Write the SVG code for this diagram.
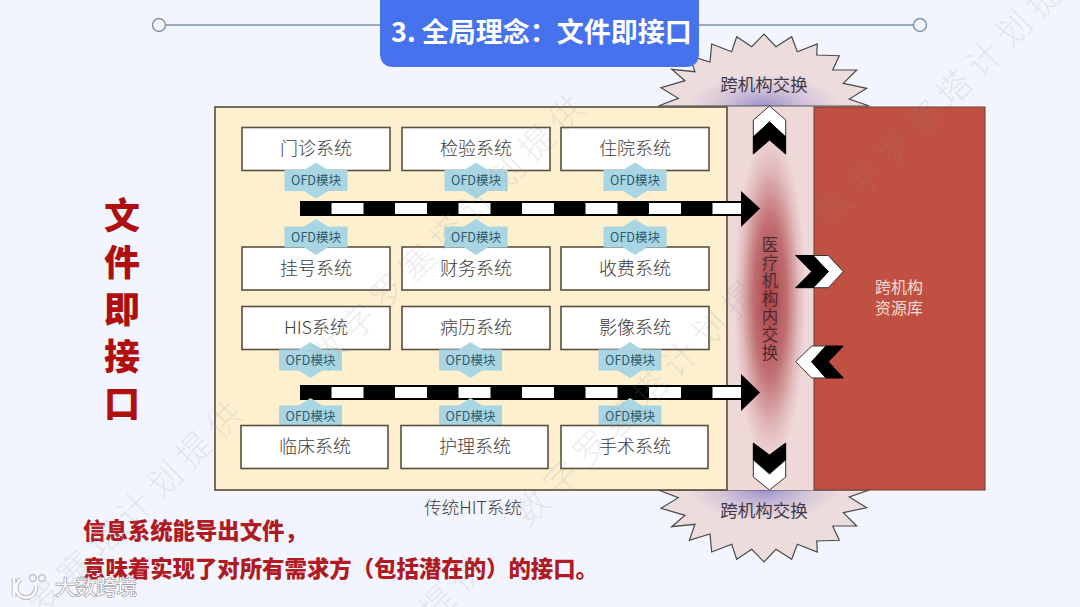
<svg xmlns="http://www.w3.org/2000/svg" width="1080" height="607" viewBox="0 0 1080 607">
<style>
text{font-family:"Noto Sans CJK SC","Liberation Sans",sans-serif}
.sys{fill:#fff;stroke:#5a5040;stroke-width:1.6}
.st{font-size:18px;fill:#3c3c3c;text-anchor:middle;font-weight:300}
.ofd{fill:#a9d6e2}
.ot{font-size:12.5px;fill:#2d5a6c;text-anchor:middle}
.wm{font-size:34px;fill:#8a8a8a;opacity:.15;letter-spacing:8px;font-weight:300}
.ch-k{fill:#000;stroke:#000;stroke-width:1}
.ch-w{fill:#fff;stroke:#333;stroke-width:1}
</style>
<defs>
<radialGradient id="gT" gradientUnits="userSpaceOnUse" cx="764" cy="106" r="75" gradientTransform="translate(764 106) scale(1 .42) translate(-764 -106)">
<stop offset="0" stop-color="#9c93cc"/><stop offset=".55" stop-color="#d3c3d8"/><stop offset="1" stop-color="#ecdcdc"/>
</radialGradient>
<radialGradient id="gB" gradientUnits="userSpaceOnUse" cx="764" cy="490" r="75" gradientTransform="translate(764 490) scale(1 .42) translate(-764 -490)">
<stop offset="0" stop-color="#9c93cc"/><stop offset=".55" stop-color="#d3c3d8"/><stop offset="1" stop-color="#ecdcdc"/>
</radialGradient>
<radialGradient id="gM" gradientUnits="userSpaceOnUse" cx="770" cy="298" r="100" gradientTransform="translate(770 298) scale(.36 1.65) translate(-770 -298)">
<stop offset="0" stop-color="#ae4248"/><stop offset=".45" stop-color="#bf6c70"/><stop offset=".8" stop-color="#e2bcbd"/><stop offset="1" stop-color="#efd8d8"/>
</radialGradient>
<polygon id="ofdT" points="-31.5,-10.5 -12,-10.5 0,-18 12,-10.5 31.5,-10.5 31.5,10.5 12,10.5 0,18 -12,10.5 -31.5,10.5"/>
</defs>
<rect width="1080" height="607" fill="#f3f5fe"/>
<g id="header">
<line x1="159" y1="25" x2="920" y2="25" stroke="#7d8fa8" stroke-width="1.4"/>
<circle cx="159" cy="25" r="6.5" fill="#f3f5fe" stroke="#7d8fa8" stroke-width="1.4"/>
<circle cx="920" cy="25" r="6.5" fill="#f3f5fe" stroke="#7d8fa8" stroke-width="1.4"/>
</g>
<g id="star-top">
<polygon points="658.3,106 678.3,98.3 661,87.7 685,80.7 671.7,69.3 695,71.7 689.3,55.7 710,62 711.7,44 731.7,51.7 736.7,36.7 751.7,46.7 764,34 776,46.7 791.7,36.7 797.3,51.7 817.3,44 816.7,55 839.3,55.7 832.7,70 856.7,70 843.3,83.3 866.7,88.3 849.3,99 869.3,106" fill="url(#gT)" stroke="#4a4a4a" stroke-width="1.2"/>
<text x="764" y="91" text-anchor="middle" font-size="17.5" fill="#3f3a4a">跨机构交换</text>
</g>
<g id="star-bottom">
<polygon points="658.3,490 678.3,497.7 661,508.3 685,515.3 671.7,526.7 695,524.3 689.3,540.3 710,534 711.7,552 731.7,544.3 736.7,559.3 751.7,549.3 764,562 776,549.3 791.7,559.3 797.3,544.3 817.3,552 816.7,541 839.3,540.3 832.7,526 856.7,526 843.3,512.7 866.7,507.7 849.3,497 869.3,490" fill="url(#gB)" stroke="#4a4a4a" stroke-width="1.2"/>
<text x="764" y="517" text-anchor="middle" font-size="17.5" fill="#3f3a4a">跨机构交换</text>
</g>
<g id="title">
<path d="M380 0H699V53Q699 67 685 67H394Q380 67 380 53Z" fill="#4672ee"/>
<text x="391" y="42" font-size="27" font-weight="700" fill="#fff">3. 全局理念：文件即接口</text>
</g>
<g id="exchange">
<rect x="727" y="107" width="87" height="383" fill="url(#gM)"/>
<text font-size="16.5" fill="#4a2a30" text-anchor="middle">
<tspan x="770" y="251">医</tspan><tspan x="770" y="269">疗</tspan><tspan x="770" y="287">机</tspan><tspan x="770" y="305">构</tspan><tspan x="770" y="323">内</tspan><tspan x="770" y="341">交</tspan><tspan x="770" y="359">换</tspan>
</text>
</g>
<g id="hit">
<rect x="215" y="107" width="512" height="383" fill="#fdf0cf" stroke="#554c3c" stroke-width="1.6"/>
<text x="473" y="514" text-anchor="middle" font-size="17.5" fill="#3c3c3c" font-weight="300">传统HIT系统</text>
</g>
<g id="resource">
<rect x="814" y="107" width="171" height="383" fill="#c05142" stroke="#6a3a30" stroke-width="1"/>
<text text-anchor="middle" font-size="16" fill="#f4dcd2"><tspan x="899" y="293">跨机构</tspan><tspan x="899" y="314">资源库</tspan></text>
</g>
<g id="n1"><rect class="sys" x="242" y="127.5" width="148" height="43"/><text class="st" x="316" y="155">门诊系统</text></g>
<g id="n2"><rect class="sys" x="402" y="127.5" width="148" height="43"/><text class="st" x="476" y="155">检验系统</text></g>
<g id="n3"><rect class="sys" x="561" y="127.5" width="148" height="43"/><text class="st" x="635" y="155">住院系统</text></g>
<g id="n4"><rect class="sys" x="242" y="247" width="148" height="43"/><text class="st" x="316" y="274.5">挂号系统</text></g>
<g id="n5"><rect class="sys" x="402" y="247" width="148" height="43"/><text class="st" x="476" y="274.5">财务系统</text></g>
<g id="n6"><rect class="sys" x="561" y="247" width="148" height="43"/><text class="st" x="635" y="274.5">收费系统</text></g>
<g id="n7"><rect class="sys" x="242" y="306.5" width="148" height="43"/><text class="st" x="316" y="334">HIS系统</text></g>
<g id="n8"><rect class="sys" x="402" y="306.5" width="148" height="43"/><text class="st" x="476" y="334">病历系统</text></g>
<g id="n9"><rect class="sys" x="561" y="306.5" width="148" height="43"/><text class="st" x="635" y="334">影像系统</text></g>
<g id="connectors">
<g id="bus1">
<rect x="300" y="201" width="441" height="15"/>
<g fill="#fff"><rect x="331.5" y="203" width="32" height="11"/><rect x="395" y="203" width="32" height="11"/><rect x="458.5" y="203" width="32" height="11"/><rect x="522" y="203" width="32" height="11"/><rect x="585.5" y="203" width="32" height="11"/><rect x="649" y="203" width="32" height="11"/><rect x="712.5" y="203" width="28.5" height="11"/></g>
<polygon points="741,191 760,208.5 741,227"/>
</g>
<g id="bus2">
<rect x="300" y="385" width="441" height="15"/>
<g fill="#fff"><rect x="331.5" y="387" width="32" height="11"/><rect x="395" y="387" width="32" height="11"/><rect x="458.5" y="387" width="32" height="11"/><rect x="522" y="387" width="32" height="11"/><rect x="585.5" y="387" width="32" height="11"/><rect x="649" y="387" width="32" height="11"/><rect x="712.5" y="387" width="28.5" height="11"/></g>
<polygon points="741,374 760,392.5 741,411"/>
</g>
<g id="chev-up"><polygon class="ch-w" points="769.5,106 785.7,120 785.7,137 769.5,122 753.3,137 753.3,120"/><polygon class="ch-k" points="769.5,122 785.7,137 785.7,154 769.5,140 753.3,154 753.3,137"/></g>
<g id="chev-down"><polygon class="ch-k" points="769.5,455 785.7,443 785.7,460 769.5,474 753.3,460 753.3,443"/><polygon class="ch-w" points="769.5,474 785.7,460 785.7,477 769.5,490 753.3,477 753.3,460"/></g>
<g id="chev-right"><polygon class="ch-w" points="813,255.5 828.3,255.5 843.3,271.7 828.3,287.7 813,287.7 828.3,271.7"/><polygon class="ch-k" points="795.7,255.5 813,255.5 828.3,271.7 813,287.7 795.7,287.7 811.7,271.7"/></g>
<g id="chev-left"><polygon class="ch-w" points="795.7,361.7 811.7,346 826,346 811.7,361.7 826,378 811.7,378"/><polygon class="ch-k" points="826,346 843.3,346 828.3,361.7 843.3,378 826,378 811.7,361.7"/></g>
</g>
<g id="ofd-row1"><use href="#ofdT" class="ofd" x="316" y="180.5"/><text class="ot" x="316" y="185">OFD模块</text><use href="#ofdT" class="ofd" x="476" y="180.5"/><text class="ot" x="476" y="185">OFD模块</text><use href="#ofdT" class="ofd" x="635" y="180.5"/><text class="ot" x="635" y="185">OFD模块</text></g>
<g id="ofd-row2"><use href="#ofdT" class="ofd" x="316" y="237"/><text class="ot" x="316" y="241.5">OFD模块</text><use href="#ofdT" class="ofd" x="476" y="237"/><text class="ot" x="476" y="241.5">OFD模块</text><use href="#ofdT" class="ofd" x="635" y="237"/><text class="ot" x="635" y="241.5">OFD模块</text></g>
<g id="ofd-row3"><use href="#ofdT" class="ofd" x="310.5" y="360"/><text class="ot" x="310.5" y="364.5">OFD模块</text><use href="#ofdT" class="ofd" x="470.5" y="360"/><text class="ot" x="470.5" y="364.5">OFD模块</text><use href="#ofdT" class="ofd" x="630" y="360"/><text class="ot" x="630" y="364.5">OFD模块</text></g>
<g id="ofd-row4"><use href="#ofdT" class="ofd" x="310.5" y="416"/><text class="ot" x="310.5" y="420.5">OFD模块</text><use href="#ofdT" class="ofd" x="470.5" y="416"/><text class="ot" x="470.5" y="420.5">OFD模块</text><use href="#ofdT" class="ofd" x="630" y="416"/><text class="ot" x="630" y="420.5">OFD模块</text></g>
<g id="n10"><rect class="sys" x="241" y="425.5" width="147" height="43"/><text class="st" x="315" y="453">临床系统</text></g>
<g id="n11"><rect class="sys" x="401" y="425.5" width="147" height="43"/><text class="st" x="475" y="453">护理系统</text></g>
<g id="n12"><rect class="sys" x="561" y="425.5" width="147" height="43"/><text class="st" x="635" y="453">手术系统</text></g>
<g id="side-label" font-size="36" font-weight="900" fill="#b00f0f" text-anchor="middle">
<text x="122" y="229">文</text><text x="122" y="276">件</text><text x="122" y="323">即</text><text x="122" y="370">接</text><text x="122" y="417">口</text>
</g>
<g id="note" font-size="22.4" font-weight="900" fill="#b01a22">
<text x="83" y="539">信息系统能导出文件，</text>
<text x="83" y="577">意味着实现了对所有需求方（包括潜在的）的接口。</text>
</g>
<g id="watermarks">
<text class="wm" transform="translate(832 228) rotate(-45)">数字罗塞塔计划提供</text>
<text class="wm" transform="translate(325 372) rotate(-45)">数字罗塞塔计划提供</text>
<text class="wm" transform="translate(528 528) rotate(-45)">数字罗塞塔计划提供</text>
<text class="wm" transform="translate(42 619) rotate(-45)">罗塞塔计划提供</text>
<text class="wm" transform="translate(434 624) rotate(-45)">提供</text>
</g>
<g id="logo">
<text x="55" y="595" font-size="20.5" fill="#fafafd" stroke="#a0a0a8" stroke-width="1.4" paint-order="stroke">大数跨境</text>
<g fill="none" stroke="#b0b0b8" stroke-width="4.5"><path d="M14 578V597M36 586a10 10 0 1 1-15-7"/></g>
<g fill="none" stroke="#fafafd" stroke-width="2.8"><path d="M14 578V597M36 586a10 10 0 1 1-15-7"/></g>
<circle cx="33" cy="578" r="3.4" fill="none" stroke="#c8c8d0" stroke-width="1.6"/><circle cx="42" cy="578" r="3.4" fill="none" stroke="#c8c8d0" stroke-width="1.6"/>
</g>
</svg>
